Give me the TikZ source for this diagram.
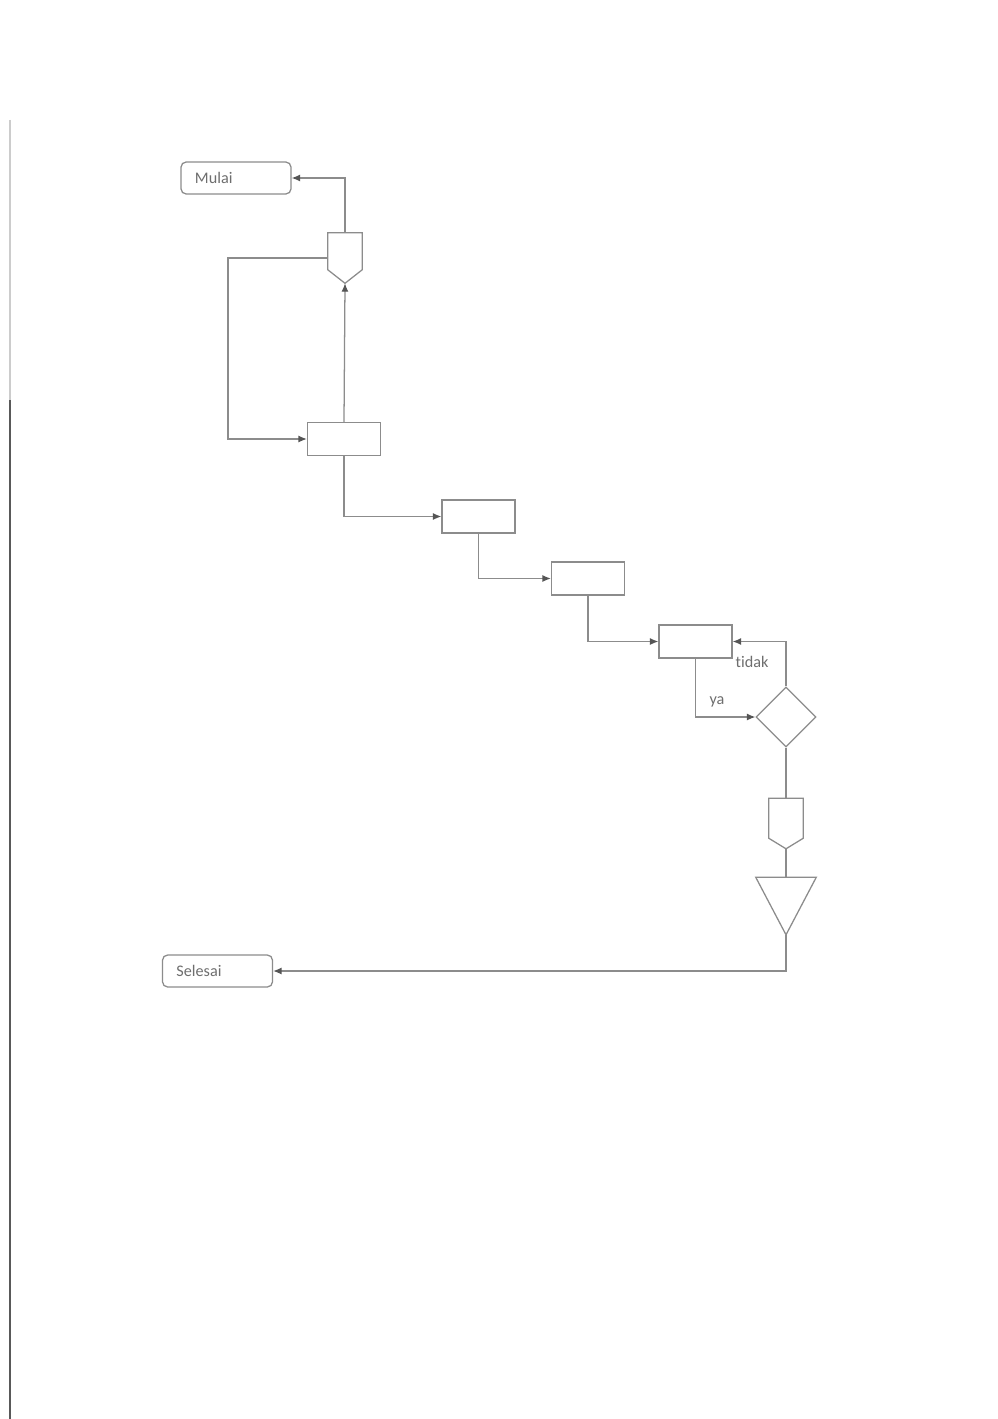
\documentclass[tikz,border=0pt]{standalone}
\usepackage{fontspec}
\setmainfont{Carlito}[RawFeature=-liga]
\usetikzlibrary{positioning}
\usetikzlibrary{calc}
\usetikzlibrary{arrows.meta}
\usetikzlibrary{shapes.geometric}
\definecolor{linegray}{RGB}{140,140,140}
\definecolor{tipgray}{RGB}{85,85,85}
\definecolor{textgray}{RGB}{110,110,110}
\tikzset{
  terminal/.style={draw=linegray, line width=0.9pt, rounded corners=0.13cm,
    minimum height=0.8cm, text width=2.05cm, inner xsep=0.35cm, align=left,
    text=textgray, font=\fontsize{11.5}{13}\selectfont},
  process/.style={draw=linegray, line width=0.9pt, minimum width=1.825cm,
    minimum height=0.825cm, inner sep=0pt},
  decision/.style={draw=linegray, line width=0.9pt, diamond, aspect=1,
    minimum size=1.5cm, inner sep=0pt},
  offpage/.style={minimum width=0.85cm, minimum height=1.25cm, inner sep=0pt},
  merge/.style={minimum width=1.5cm, minimum height=1.425cm, inner sep=0pt},
  flow/.style={draw=linegray, line width=0.9pt, -{Latex[length=6pt,width=5pt,color=tipgray]}},
  plain/.style={draw=linegray, line width=0.9pt},
  lbl/.style={text=textgray, font=\fontsize{11.5}{13}\selectfont, inner sep=0pt}
}
\begin{document}
\begin{tikzpicture}[x=0.025cm, y=-0.025cm]
    \useasboundingbox[fill=white] (0,0) rectangle (998,1419);
    % scan edge on the left
    \draw[gray!40, line width=1.5pt] (10,120) -- (10,400);
    \draw[gray!70!black, line width=2pt] (10,400) -- (10,1419);

    % terminals
    \node[terminal] (mulai) at (236,178) {Mulai};
    \node[terminal] (selesai) at (217.5,971) {Selesai};

    % process boxes going down the stairs
    \node[process] (box1) at (344,439) {};
    \node[process] (box2) at (478.5,516.5) {};
    \node[process] (box3) at (588,578.5) {};
    \node[process] (box4) at (695.5,641.5) {};
    \node[decision] (cek) at (786,717) {};

    % off-page connectors and merge triangle (outlines drawn below)
    \node[offpage] (op1) at (345,258) {};
    \node[offpage] (op2) at (786,823.5) {};
    \node[merge] (tri) at (786,906) {};
    \draw[plain] (op1.north west) -- (op1.north east) -- ($(op1.north east)+(0,37)$)
        -- (op1.south) -- ($(op1.north west)+(0,37)$) -- cycle;
    \draw[plain] (op2.north west) -- (op2.north east) -- ($(op2.north east)+(0,40)$)
        -- (op2.south) -- ($(op2.north west)+(0,40)$) -- cycle;
    \draw[plain] (tri.north west) -- (tri.north east) -- (tri.south) -- cycle;

    % connectors
    \coordinate (back) at (228,258);
    \draw[flow] (op1.north) |- (mulai.east);
    \draw[flow] (op1.west) -- (back) |- (box1.west);
    \draw[flow] (box1.north) -- (op1.south);
    \draw[flow] (box1.south) |- (box2.west);
    \draw[flow] (box2.south) |- (box3.west);
    \draw[flow] (box3.south) |- (box4.west);
    \draw[flow] (box4.south) |- (cek.west);
    \draw[flow] (cek.north) |- (box4.east);
    \draw[plain] (cek.south) -- (op2.north);
    \draw[plain] (op2.south) -- (tri.north);
    \draw[flow] (tri.south) |- (selesai.east);

    % branch labels
    \node[lbl] (ya) at (717,702) {ya};
    \node[lbl] (tidak) at (752,662) {tidak};
\end{tikzpicture}
\end{document}
